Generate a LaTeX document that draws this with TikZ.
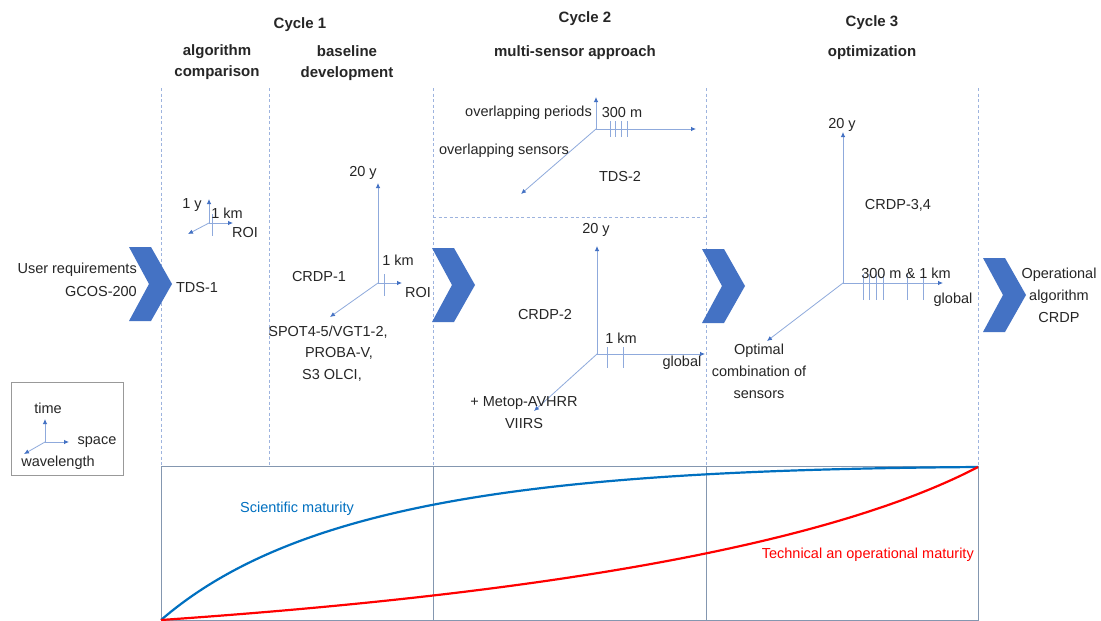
\documentclass[tikz,border=0pt]{standalone}
\usepackage{fontspec}
\setmainfont{Liberation Sans}
\usetikzlibrary{arrows.meta}
\definecolor{axisc}{HTML}{8FAADC}
\definecolor{tipc}{HTML}{4472C4}
\definecolor{chev}{HTML}{4472C4}
\definecolor{dashc}{HTML}{9DB3DE}
\definecolor{chartc}{HTML}{8497B0}
\definecolor{sciblue}{HTML}{0070C0}
\definecolor{txt}{HTML}{262626}
\begin{document}
\begin{tikzpicture}[x=1pt,y=-1pt,
  lbl/.style={font=\fontsize{14.5}{22}\selectfont, text=txt, inner sep=0pt, align=center},
  hdr/.style={font=\bfseries\fontsize{15}{21}\selectfont, text=txt, inner sep=0pt, align=center},
  ax/.style={draw=axisc, line width=0.8pt, -{Latex[length=5pt,width=4.5pt,color=tipc]}},
  tickm/.style={draw=axisc, line width=0.8pt},
  sep/.style={draw=dashc, line width=0.7pt, dash pattern=on 3pt off 2.5pt},
  chevron/.style={fill=chev, draw=none},
  chartline/.style={draw=chartc, line width=0.8pt},
]
\useasboundingbox (0,0) rectangle (1101,621);
\fill[white] (0,0) rectangle (1101,621);

% headers
\node[hdr] (c1) at (300,25) {Cycle 1};
\node[hdr] (h11) at (217,62) {algorithm\\comparison};
\node[hdr] (h12) at (347,63) {baseline\\development};
\node[hdr] (c2) at (585,19) {Cycle 2};
\node[hdr] (h2) at (575,53) {multi-sensor approach};
\node[hdr] (c3) at (872,23) {Cycle 3};
\node[hdr] (h3) at (872,53) {optimization};

% dashed separators
\foreach \x/\n in {161/a,269/b,433/c,706/d,978/e}{
  \coordinate (st\n) at (\x,88);
  \coordinate (sb\n) at (\x,466);
  \draw[sep] (st\n) -- (sb\n);
}
\coordinate (hl) at (433,217);
\coordinate (hr) at (706,217);
\draw[sep] (hl) -- (hr);

% chevrons
\foreach \x/\y in {129/247,432/248,702/249,983/258}{
  \fill[chevron] (\x,\y) -- ++(22,0) -- ++(21,37) -- ++(-21,37) -- ++(-22,0) -- ++(20,-37) -- cycle;
}

% left and right texts
\node[lbl, anchor=east] (ur) at (137,270) {User requirements};
\node[lbl, anchor=east] (gc) at (137,292) {GCOS-200};
\node[lbl] (op) at (1059,295) {Operational\\algorithm\\CRDP};

% TDS-1 axes
\coordinate (o1) at (209,223);
\coordinate (t1) at (209,199);
\coordinate (s1) at (233,223);
\coordinate (w1) at (188,234);
\coordinate (k1a) at (212,214);
\coordinate (k1b) at (212,236);
\draw[ax] (o1) -- (t1);
\draw[ax] (o1) -- (s1);
\draw[ax] (o1) -- (w1);
\draw[tickm] (k1a) -- (k1b);
\node[lbl] (l1y) at (192,205) {1 y};
\node[lbl] (l1k) at (227,213) {1 km};
\node[lbl] (l1r) at (245,233) {ROI};
\node[lbl] (tds1) at (197,288) {TDS-1};

% CRDP-1 axes
\coordinate (o2) at (378,283);
\coordinate (t2) at (378,183);
\coordinate (s2) at (402,283);
\coordinate (w2) at (330,317);
\coordinate (k2a) at (384,274);
\coordinate (k2b) at (384,296);
\draw[ax] (o2) -- (t2);
\draw[ax] (o2) -- (s2);
\draw[ax] (o2) -- (w2);
\draw[tickm] (k2a) -- (k2b);
\node[lbl] (l2y) at (363,173) {20 y};
\node[lbl] (l2k) at (398,260) {1 km};
\node[lbl] (l2r) at (418,293) {ROI};
\node[lbl] (crdp1) at (319,277) {CRDP-1};
\node[lbl] (sp1) at (328,332) {SPOT4-5/VGT1-2,};
\node[lbl] (sp2) at (339,353) {PROBA-V,};
\node[lbl] (sp3) at (332,375) {S3 OLCI,};

% TDS-2 axes
\coordinate (o3) at (596,129);
\coordinate (t3) at (596,97);
\coordinate (s3) at (696,129);
\coordinate (w3) at (521,194);
\draw[ax] (o3) -- (t3);
\draw[ax] (o3) -- (s3);
\draw[ax] (o3) -- (w3);
\foreach \x/\n in {610/a,615/b,621/c,627/d}{
  \coordinate (k3\n a) at (\x,121);
  \coordinate (k3\n b) at (\x,137);
  \draw[tickm] (k3\n a) -- (k3\n b);
}
\node[lbl, anchor=east] (ovp) at (592,113) {overlapping periods};
\node[lbl] (l3m) at (622,113) {300 m};
\node[lbl] (ovs) at (504,151) {overlapping sensors};
\node[lbl] (tds2) at (620,177) {TDS-2};

% CRDP-2 axes
\coordinate (o4) at (597,354);
\coordinate (t4) at (597,246);
\coordinate (s4) at (705,354);
\coordinate (w4) at (534,411);
\draw[ax] (o4) -- (t4);
\draw[ax] (o4) -- (s4);
\draw[ax] (o4) -- (w4);
\foreach \x/\n in {607/a,623/b}{
  \coordinate (k4\n a) at (\x,347);
  \coordinate (k4\n b) at (\x,368);
  \draw[tickm] (k4\n a) -- (k4\n b);
}
\node[lbl] (l4y) at (596,230) {20 y};
\node[lbl] (crdp2) at (545,315) {CRDP-2};
\node[lbl] (l4k) at (621,338) {1 km};
\node[lbl] (l4g) at (682,363) {global};
\node[lbl] (met) at (524,413) {+ Metop-AVHRR\\VIIRS};

% CRDP-3,4 axes
\coordinate (o5) at (843,283);
\coordinate (t5) at (843,132);
\coordinate (s5) at (943,283);
\coordinate (w5) at (767,341);
\draw[ax] (o5) -- (t5);
\draw[ax] (o5) -- (s5);
\draw[ax] (o5) -- (w5);
\foreach \x/\n in {863/a,869/b,876/c,883/d,907/e,923/f}{
  \coordinate (k5\n a) at (\x,274);
  \coordinate (k5\n b) at (\x,300);
  \draw[tickm] (k5\n a) -- (k5\n b);
}
\node[lbl] (l5y) at (842,125) {20 y};
\node[lbl] (crdp3) at (898,205) {CRDP-3,4};
\node[lbl] (l5k) at (906,273) {300 m \& 1 km};
\node[lbl] (l5g) at (953,300) {global};
\node[lbl] (optc) at (759,371) {Optimal\\combination of\\sensors};

% legend
\node[draw=gray!80, line width=0.9pt, minimum width=112pt, minimum height=93pt, inner sep=0pt] (leg) at (67,428.5) {};
\coordinate (o6) at (45,442);
\coordinate (t6) at (45,419);
\coordinate (s6) at (69,442);
\coordinate (w6) at (24,454);
\draw[ax] (o6) -- (t6);
\draw[ax] (o6) -- (s6);
\draw[ax] (o6) -- (w6);
\node[lbl] (ltime) at (48,408) {time};
\node[lbl] (lspace) at (97,442) {space};
\node[lbl] (lwave) at (58,463) {wavelength};

% chart
\coordinate (cTL) at (161,466);
\coordinate (cBR) at (978,620);
\draw[chartline] (cTL) rectangle (cBR);
\foreach \x/\n in {433/a,706/b}{
  \coordinate (cv\n t) at (\x,466);
  \coordinate (cv\n b) at (\x,620);
  \draw[chartline] (cv\n t) -- (cv\n b);
}
\coordinate (start) at (161,620);
\coordinate (end) at (978,467);
\draw[sciblue, line width=2.2pt] (start) .. controls (300,500) and (550,470) .. (end);
\draw[red, line width=2.2pt] (start) .. controls (450,600) and (800,560) .. (end);
\node[font=\fontsize{14.5}{17}\selectfont, text=sciblue, inner sep=0pt] (sm) at (297,509) {Scientific maturity};
\node[font=\fontsize{14.5}{17}\selectfont, text=red, inner sep=0pt, anchor=east] (tm) at (974,555) {Technical an operational maturity};
\end{tikzpicture}
\end{document}
